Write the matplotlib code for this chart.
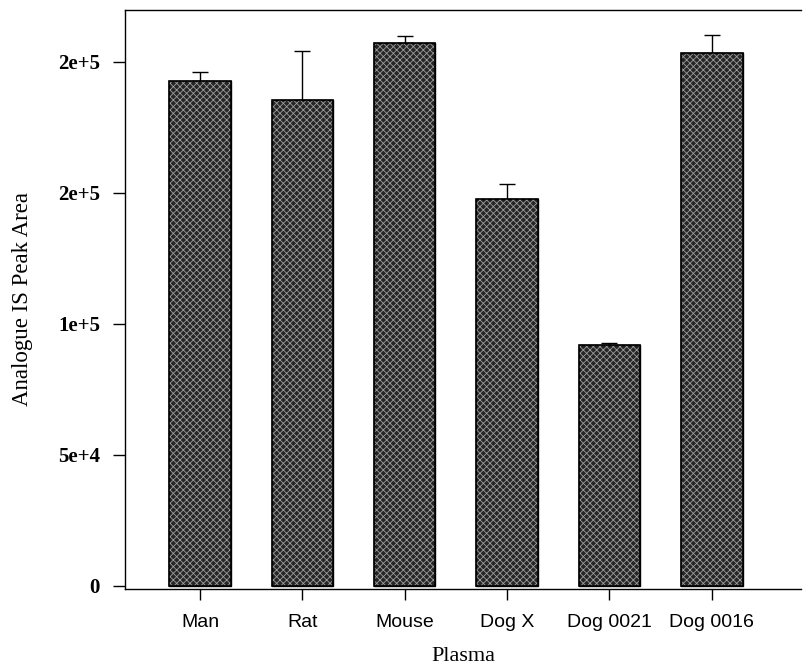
import matplotlib
matplotlib.use("Agg")
import matplotlib.pyplot as plt
import numpy as np

# data
categories = ["Man", "Rat", "Mouse", "Dog X", "Dog 0021", "Dog 0016"]
peak_area = [192800, 185500, 207200, 147800, 92000, 203500]
upper_err = [3300, 18800, 2800, 5400, 800, 6800]
y_ticks = [0, 50000, 100000, 150000, 200000]
y_tick_labels = ["0", "5e+4", "1e+5", "2e+5", "2e+5"]

plt.rcParams['hatch.linewidth'] = 0.6

fig = plt.figure(figsize=(8.07, 6.69), dpi=100)
ax = fig.add_axes([0.155, 0.120, 0.838, 0.865])

x = np.arange(len(categories))
ax.bar(x, peak_area, width=0.6, color="#262626", edgecolor="black", linewidth=1.0, zorder=2)
# light cross-hatch on top gives the dotted look
ax.bar(x, peak_area, width=0.6, color="none", edgecolor="#9c9c9c", hatch="xxxxx", linewidth=0, zorder=3)
ax.bar(x, peak_area, width=0.6, color="none", edgecolor="black", linewidth=1.2, zorder=4)
ax.errorbar(x, peak_area, yerr=[np.zeros(len(x)), upper_err], fmt="none",
            ecolor="black", elinewidth=1.0, capsize=5.5, capthick=1.0, zorder=1)

ax.set_xlim(-0.733, 5.875)
ax.set_ylim(-1150, 219800)

ax.set_xticks(x)
ax.set_xticklabels(categories, fontsize=14, family="Liberation Sans")
ax.set_yticks(y_ticks)
ax.set_yticklabels(y_tick_labels, fontsize=15, family="Liberation Serif", fontweight="bold")
ax.tick_params(axis="y", direction="out", length=9, width=1, pad=9)
ax.tick_params(axis="x", direction="out", length=8, width=1, pad=10)

ax.spines["right"].set_visible(False)
for s in ["top", "left", "bottom"]:
    ax.spines[s].set_linewidth(1.0)

ax.set_ylabel("Analogue IS Peak Area", fontsize=16.5, family="Liberation Serif")
ax.yaxis.set_label_coords(-0.136, 0.5)
ax.set_xlabel("Plasma", fontsize=16, family="Liberation Serif", labelpad=12)

plt.savefig("out.png", dpi=100)
